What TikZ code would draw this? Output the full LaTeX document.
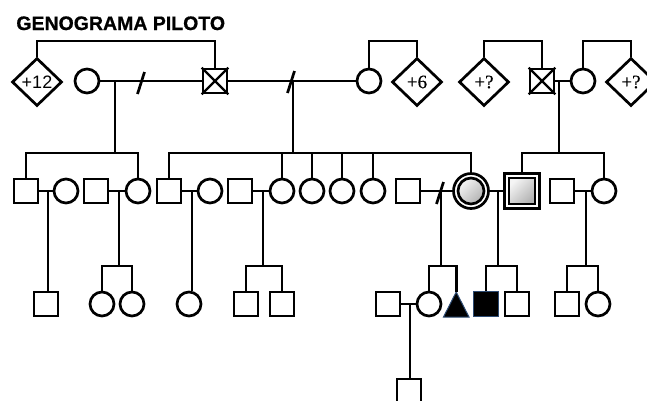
\documentclass[tikz,border=0pt]{standalone}
\usepackage{fontspec}
\setmainfont{Liberation Sans}
\newfontfamily\serifF[FakeBold=0.3]{Liberation Serif}
\newfontfamily\titleF[FakeBold=0.8]{Liberation Sans Bold}
\usetikzlibrary{shapes.geometric}
\definecolor{tribl}{RGB}{45,75,115}
\tikzset{
  male/.style={draw, rectangle, minimum size=24pt, inner sep=0pt},
  female/.style={draw, circle, minimum size=24pt, inner sep=0pt},
  unk/.style={draw, diamond, minimum width=50pt, minimum height=48pt, inner sep=0pt, font=\fontsize{18}{18}\selectfont},
  unks/.style={unk, font=\serifF\fontsize{19}{18}\selectfont},
  shadefill/.style={top color=gray!8, bottom color=gray!60, shading angle=45},
  divorce/.pic={\draw (-3.5,11) -- (3.5,-11);}
}
\begin{document}
\begin{tikzpicture}[x=1pt, y=-1pt, line width=2.7pt]
\useasboundingbox (0,0) rectangle (647,400);
\clip (0,0) rectangle (647,400);

% title
\node[anchor=base west, inner sep=0pt, font=\titleF\fontsize{19.5}{20}\selectfont] (title) at (15,30) {GENOGRAMA PILOTO};

% level coordinates
\coordinate (B1) at (0,41);
\coordinate (L2) at (0,153);
\coordinate (L3) at (0,266);

% ---- row 1
\node[unk] (d12) at (37,82) {+12};
\node[female] (w1) at (87,81) {};
\node[male] (gf) at (215,81) {};
\draw[line width=2.2pt] (gf.north west) -- (gf.south east) (gf.north east) -- (gf.south west);
\node[female] (w2) at (369,81) {};
\node[unks] (d6) at (417,82) {+6};
\node[unks] (dq1) at (484,82) {+?};
\node[male] (gf2) at (542,81) {};
\draw[line width=2.2pt] (gf2.north west) -- (gf2.south east) (gf2.north east) -- (gf2.south west);
\node[female] (gm2) at (583,81) {};
\node[unks] (dq2) at (631,82) {+?};

% sibling brackets row 1
\draw (d12.north) |- (gf.north |- B1) -- (gf.north);
\draw (w2.north) |- (d6.north |- B1) -- (d6.north);
\draw (dq1.north) |- (gf2.north |- B1) -- (gf2.north);
\draw (gm2.north) |- (dq2.north |- B1) -- (dq2.north);

% marriages row 1
\draw (w1.east) -- (gf.west);
\pic at (141,83) {divorce};
\draw (gf.east) -- (w2.west);
\pic at (291,82) {divorce};
\draw (gf2.east) -- (gm2.west);

\coordinate (a1) at (115,81);
\coordinate (a2) at (293,81);
\coordinate (a3) at (559,81);
\draw (a1) -- (a1 |- L2);
\draw (a2) -- (a2 |- L2);
\draw (a3) -- (a3 |- L2);

% ---- row 2
\node[male] (m1) at (26,191) {};
\node[female] (f1) at (66,191) {};
\node[male] (m2) at (96,191) {};
\node[female] (f2) at (138,191) {};
\node[male] (m3) at (169,191) {};
\node[female] (f3) at (210,191) {};
\node[male] (m4) at (240,191) {};
\node[female] (f4) at (282,191) {};
\node[female] (f5) at (312,191) {};
\node[female] (f6) at (342,191) {};
\node[female] (f7) at (373,191) {};
\node[male] (m5) at (408,191) {};
\node[circle, draw, minimum size=35pt, inner sep=0pt] (P) at (471,191) {};
\node[circle, draw, minimum size=26pt, inner sep=0pt, shadefill] (Pi) at (471,191) {};
\node[rectangle, draw, minimum size=35pt, inner sep=0pt] (Q) at (522,191) {};
\node[rectangle, draw, minimum size=26pt, inner sep=0pt, shadefill] (Qi) at (522,191) {};
\node[male] (m6) at (562,191) {};
\node[female] (f8) at (604,191) {};

% sibling lines row 2
\draw (m1.north) |- (f2.north |- L2) -- (f2.north);
\draw (m3.north) |- (P.north |- L2) -- (P.north);
\draw (f4.north) -- (f4.north |- L2);
\draw (f5.north) -- (f5.north |- L2);
\draw (f6.north) -- (f6.north |- L2);
\draw (f7.north) -- (f7.north |- L2);
\draw (Q.north) |- (f8.north |- L2) -- (f8.north);

% marriages row 2
\draw (m1.east) -- (f1.west);
\draw (m2.east) -- (f2.west);
\draw (m3.east) -- (f3.west);
\draw (m4.east) -- (f4.west);
\draw (m5.east) -- (P.west);
\pic at (440,193) {divorce};
\draw (P.east) -- (Q.west);
\draw (m6.east) -- (f8.west);

% ---- row 3
\node[male] (r3a) at (46,304) {};
\node[female] (r3b) at (102,304) {};
\node[female] (r3c) at (132,304) {};
\node[female] (r3d) at (189,304) {};
\node[male] (r3e) at (246,304) {};
\node[male] (r3f) at (282,304) {};
\node[male] (r3g) at (388,304) {};
\node[female] (r3h) at (429,304) {};
\filldraw[fill=black, draw=tribl, line width=1pt] (443.5,317) -- (469,317) -- (456.2,292) -- cycle;
\coordinate (tri) at (456.2,292);
\node[rectangle, fill=black, draw=tribl, line width=1pt, minimum size=25pt, inner sep=0pt] (r3j) at (486,304) {};
\node[male] (r3k) at (517,304) {};
\node[male] (r3l) at (567,304) {};
\node[female] (r3m) at (598,304) {};

\coordinate (k1) at (48,191);
\coordinate (k2) at (119,191);
\coordinate (k3) at (192,191);
\coordinate (k4) at (263,191);
\coordinate (k5) at (441,191);
\coordinate (k6) at (498,191);
\coordinate (k7) at (586,191);
\draw (k1) -- (k1 |- r3a.north);
\draw (k2) -- (k2 |- L3);
\draw (k3) -- (k3 |- r3d.north);
\draw (k4) -- (k4 |- L3);
\draw (k5) -- (k5 |- L3);
\draw (k6) -- (k6 |- L3);
\draw (k7) -- (k7 |- L3);

\draw (r3b.north) |- (r3c.north |- L3) -- (r3c.north);
\draw (r3e.north) |- (r3f.north |- L3) -- (r3f.north);
\draw (r3h.north) |- (tri |- L3) -- (tri);
\draw (r3j.north) |- (r3k.north |- L3) -- (r3k.north);
\draw (r3l.north) |- (r3m.north |- L3) -- (r3m.north);

\draw (r3g.east) -- (r3h.west);
\coordinate (k8) at (410,304);

% ---- row 4
\node[male] (r4) at (409,391) {};
\draw (k8) -- (k8 |- r4.north);
\end{tikzpicture}
\end{document}
